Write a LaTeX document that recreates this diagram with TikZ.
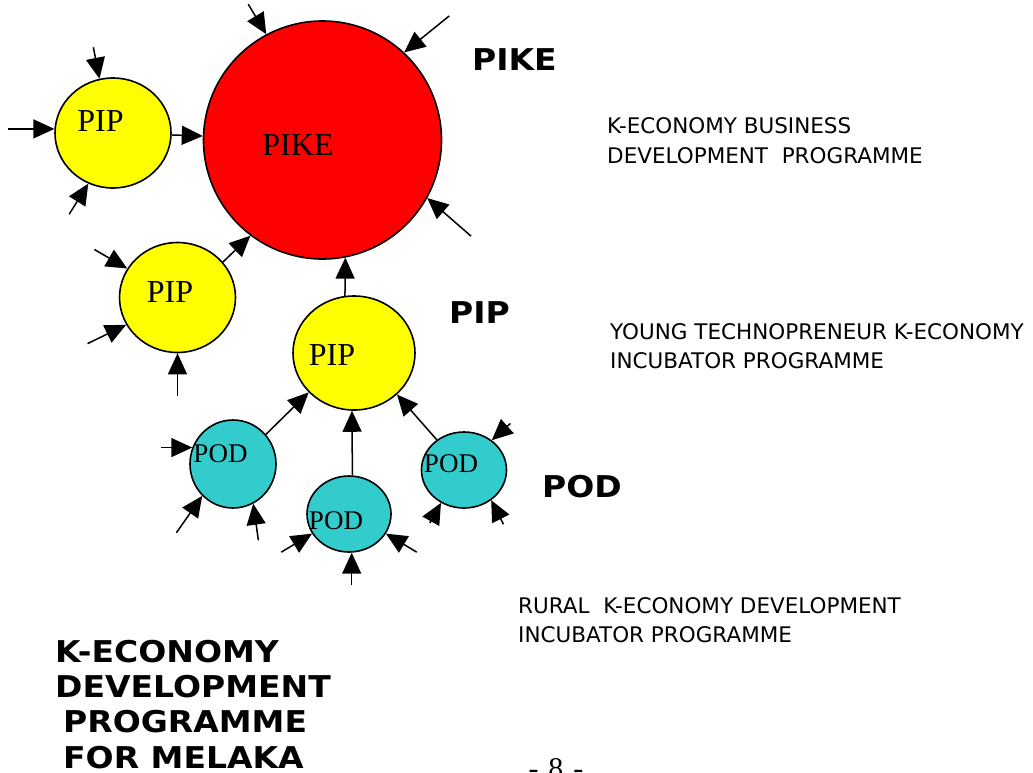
\documentclass[tikz,border=0pt]{standalone}
\usepackage{fontspec}
\setmainfont{Liberation Serif}
\newfontfamily\descfont{DejaVu Sans}
\newfontfamily\titlefont[FakeStretch=1.1]{DejaVu Sans Bold}
\usetikzlibrary{arrows.meta,shapes.geometric}
\definecolor{podteal}{RGB}{51,204,204}
\definecolor{pipyellow}{RGB}{255,255,0}
\tikzset{
    arr/.style={-{Triangle[length=21pt,width=19pt]}, line width=1.5pt},
    pikecirc/.style={circle, draw, line width=1.6pt, fill=red, minimum size=238pt, inner sep=0pt},
    pipcirc/.style={ellipse, draw, line width=1.6pt, fill=pipyellow, inner sep=0pt},
    podcirc/.style={ellipse, draw, line width=1.6pt, fill=podteal, inner sep=0pt},
    bigtxt/.style={inner sep=0pt, font=\fontsize{32}{36}\selectfont},
    podtxt/.style={inner sep=0pt, font=\fontsize{27}{30}\selectfont},
    titletxt/.style={inner sep=0pt, anchor=base west, font=\titlefont\fontsize{30}{34}\selectfont},
    desctxt/.style={inner sep=0pt, anchor=base west, font=\descfont\fontsize{21.5}{26}\selectfont}
}
\begin{document}
\begin{tikzpicture}[x=1pt,y=1pt]
    \fill[white] (0,0) rectangle (1033,-772);
    \useasboundingbox (0,0) rectangle (1033,-772);
    % circles
    \node[pikecirc] (pike) at (322.5,-140) {};
    \node[pipcirc, minimum width=116pt, minimum height=110pt] (pipa) at (113,-133) {};
    \node[pipcirc, minimum width=116pt, minimum height=110pt] (pipb) at (177.5,-297.5) {};
    \node[pipcirc, minimum width=122pt, minimum height=114pt] (pipc) at (354,-353) {};
    \node[podcirc, minimum width=86pt, minimum height=88pt] (poda) at (233,-464) {};
    \node[podcirc, minimum width=84pt, minimum height=76pt] (podb) at (349,-514) {};
    \node[podcirc, minimum width=85pt, minimum height=76pt] (podc) at (464,-470) {};
    % labels inside
    \node[bigtxt] (pikelbl) at ([shift={(-24.5,-5)}]pike) {PIKE};
    \node[bigtxt] (pipalbl) at ([shift={(-12.5,11.5)}]pipa) {PIP};
    \node[bigtxt] (pipblbl) at ([shift={(-7.5,5.5)}]pipb) {PIP};
    \node[bigtxt] (pipclbl) at ([shift={(-22,-2)}]pipc) {PIP};
    \node[podtxt] (podalbl) at ([shift={(-12.5,10)}]poda) {POD};
    \node[podtxt] (podblbl) at ([shift={(-13,-7)}]podb) {POD};
    \node[podtxt] (podclbl) at ([shift={(-13,6.5)}]podc) {POD};
    % links between the circles
    \draw[arr] (pipa) -- (pike);
    \draw[arr] (pipb.38) -- (pike.233);
    \draw[arr] (pipc.99) -- (pike.281);
    \draw[arr] (poda.42) -- (pipc.221);
    \draw[arr] (podb.85) -- (pipc.268);
    \draw[arr] (podc.132) -- (pipc.316);
    % inputs from outside
    \foreach \a/\d/\len in {118/121/35, 47/39/58, 331/319/58}
        \draw[arr] ([shift={(\d:\len)}]pike.\a) -- (pike.\a);
    \foreach \a/\d/\len in {104/101/32, 176/180/46, 244/238/36}
        \draw[arr] ([shift={(\d:\len)}]pipa.\a) -- (pipa.\a);
    \foreach \a/\d/\len in {150/150/38, 208/206/43, 270/270/43}
        \draw[arr] ([shift={(\d:\len)}]pipb.\a) -- (pipb.\a);
    \foreach \a/\d/\len in {158/180/31, 226/235/45, 297/278/37}
        \draw[arr] ([shift={(\d:\len)}]poda.\a) -- (poda.\a);
    \foreach \a/\d/\len in {208/211/36, 332/329/36, 274/270/32}
        \draw[arr] ([shift={(\d:\len)}]podb.\a) -- (podb.\a);
    \foreach \a/\d/\len in {47/42/25, 235/241/23, 312/297/27}
        \draw[arr] ([shift={(\d:\len)}]podc.\a) -- (podc.\a);
    % side titles and descriptions
    \node[titletxt] (piketitle) at (472,-70) {PIKE};
    \node[titletxt] (piptitle) at (449,-323) {PIP};
    \node[titletxt] (podtitle) at (542,-497) {POD};
    \node[desctxt] (pikedesca) at (607,-133) {K-ECONOMY BUSINESS};
    \node[desctxt] (pikedescb) at (607,-163) {DEVELOPMENT\ \ PROGRAMME};
    \node[desctxt] (pipdesca) at (610,-339) {YOUNG TECHNOPRENEUR K-ECONOMY};
    \node[desctxt] (pipdescb) at (610,-368) {INCUBATOR PROGRAMME};
    \node[desctxt] (poddesca) at (518,-613) {RURAL\ \ K-ECONOMY DEVELOPMENT};
    \node[desctxt] (poddescb) at (518,-642) {INCUBATOR PROGRAMME};
    % main title
    \node[titletxt] (titlea) at (55,-662) {K-ECONOMY};
    \node[titletxt] (titleb) at (55,-697) {DEVELOPMENT};
    \node[titletxt] (titlec) at (63,-732) {PROGRAMME};
    \node[titletxt] (titled) at (63,-768) {FOR MELAKA};
    \node[inner sep=0pt, anchor=base, font=\fontsize{30}{34}\selectfont] (pagenum) at (556,-778) {-\hspace{10pt}8\hspace{10pt}-};
\end{tikzpicture}
\end{document}
